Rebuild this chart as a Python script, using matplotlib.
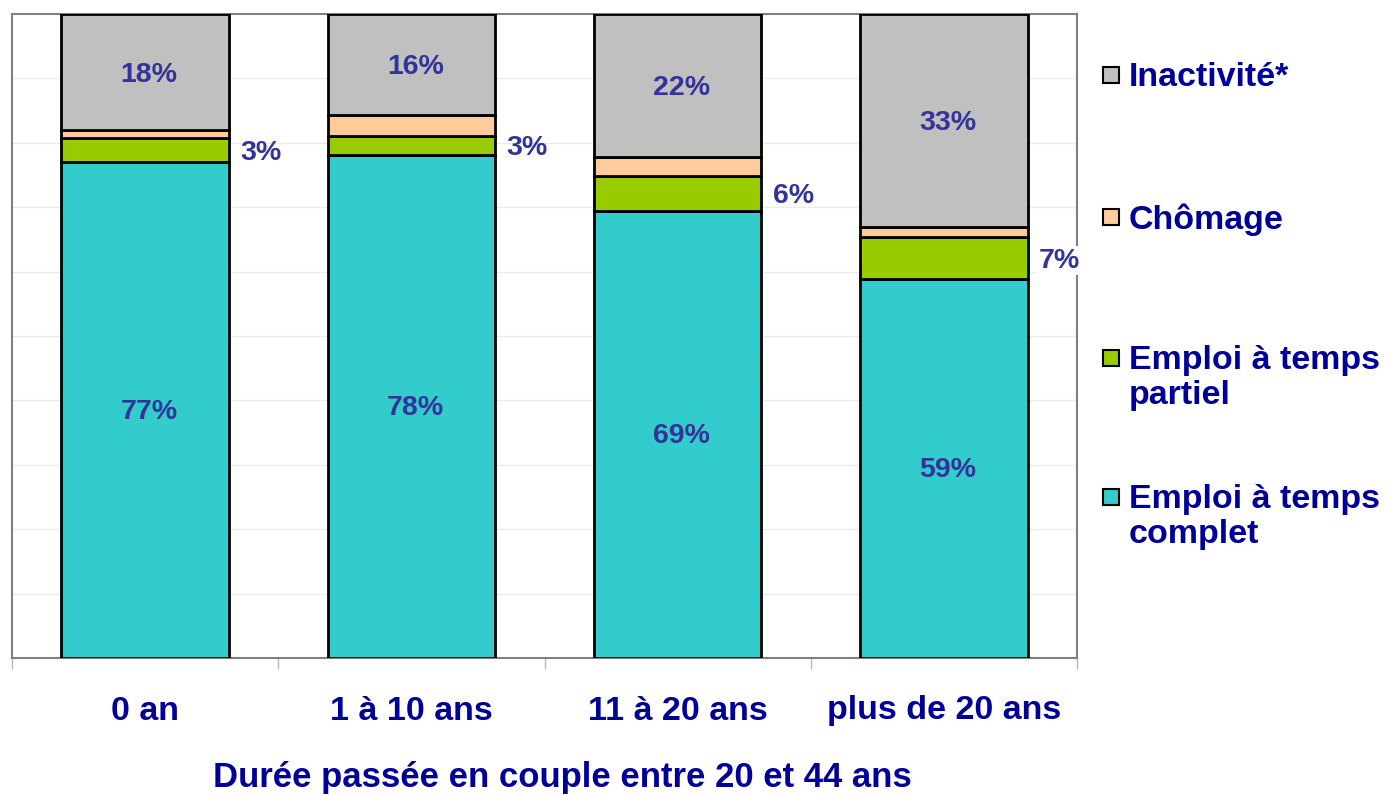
import numpy as np
import matplotlib
matplotlib.use("Agg")
import matplotlib.pyplot as plt
from matplotlib.patches import Rectangle

plt.rcParams['font.family'] = ['Liberation Sans', 'DejaVu Sans']

categories = ["0 an", "1 à 10 ans", "11 à 20 ans", "plus de 20 ans"]
complet = [77.0, 78.1, 69.4, 58.9]
partiel = [3.7, 3.0, 5.4, 6.5]
chomage = [1.3, 3.2, 3.0, 1.5]
inactivite = [18.0, 15.7, 22.2, 33.1]

complet_lbl = ["77%", "78%", "69%", "59%"]
partiel_lbl = ["3%", "3%", "6%", "7%"]
inactivite_lbl = ["18%", "16%", "22%", "33%"]

series_names = ["Emploi à temps\ncomplet", "Emploi à temps\npartiel", "Chômage", "Inactivité*"]
colors = ["#33CCCC", "#99CC00", "#FFCC99", "#C0C0C0"]

label_col = "#333399"
text_col = "#000099"

fig = plt.figure(figsize=(13.89, 7.95), dpi=100)
ax = fig.add_axes([12/1389, 1 - 658/795, 1065/1389, 644/795])

x = np.arange(len(categories))
w = 0.63
bottom = np.zeros(len(categories))
for vals, col in zip([complet, partiel, chomage, inactivite], colors):
    ax.bar(x, vals, w, bottom=bottom, color=col, edgecolor="black", linewidth=2.0, zorder=3)
    bottom += np.array(vals)

c = np.array(complet)
p = np.array(partiel)
h = np.array(chomage)
ina = np.array(inactivite)
for i in range(len(categories)):
    ax.text(x[i] + 0.015, c[i] / 2 - 0.3, complet_lbl[i], ha="center", va="center",
            color=label_col, fontsize=20.5, fontweight="bold", zorder=5)
    ax.text(x[i] + 0.015, c[i] + p[i] + h[i] + ina[i] / 2 - 0.4, inactivite_lbl[i],
            ha="center", va="center",
            color=label_col, fontsize=20.5, fontweight="bold", zorder=5)
    bb = dict(facecolor="white", edgecolor="none", pad=1) if i == 3 else None
    ax.annotate(partiel_lbl[i], (x[i] + w / 2, c[i] + p[i] / 2), xytext=(8, -2),
                textcoords="offset points", ha="left", va="center",
                color=label_col, fontsize=20.5, fontweight="bold", zorder=6, bbox=bb,
                annotation_clip=False)

ax.set_xlim(-0.5, len(categories) - 0.5)
ax.set_ylim(0, 100)
ax.set_yticks(np.arange(10, 100, 10))
ax.yaxis.grid(True, color="#EBEBEB", linewidth=1, zorder=0)
ax.tick_params(axis="y", length=0, labelleft=False)

ax.set_xticks(x)
ax.set_xticklabels(categories, fontsize=24.5, fontweight="bold", color=text_col)
ax.tick_params(axis="x", which="major", length=0, pad=27)
ax.set_xticks(np.arange(-0.5, len(categories), 1), minor=True)
ax.tick_params(axis="x", which="minor", length=8, width=1, color="#BBBBBB")

for s in ax.spines.values():
    s.set_color("#808080")
    s.set_linewidth(1.5)

ax.set_xlabel("Durée passée en couple entre 20 et 44 ans", fontsize=25,
              fontweight="bold", color=text_col, va="center")
ax.xaxis.set_label_coords((562 - 12) / 1065, -(778 - 658) / 644)

# legende
leg_items = [(78, 3, 3), (220, 3, 2), (378, 20, 1), (517, 20, 0)]
for yc, off, k in leg_items:
    ys = yc - off
    fig.patches.append(Rectangle((1103/1389, 1 - (ys + 8)/795), 16/1389, 16/795,
                                 transform=fig.transFigure, facecolor=colors[k],
                                 edgecolor="black", linewidth=1.5))
    fig.text(1129/1389, 1 - yc/795, series_names[k], ha="left", va="center",
             fontsize=24.5, fontweight="bold", color=text_col, linespacing=1.15)

fig.savefig("out.png", dpi=100)
